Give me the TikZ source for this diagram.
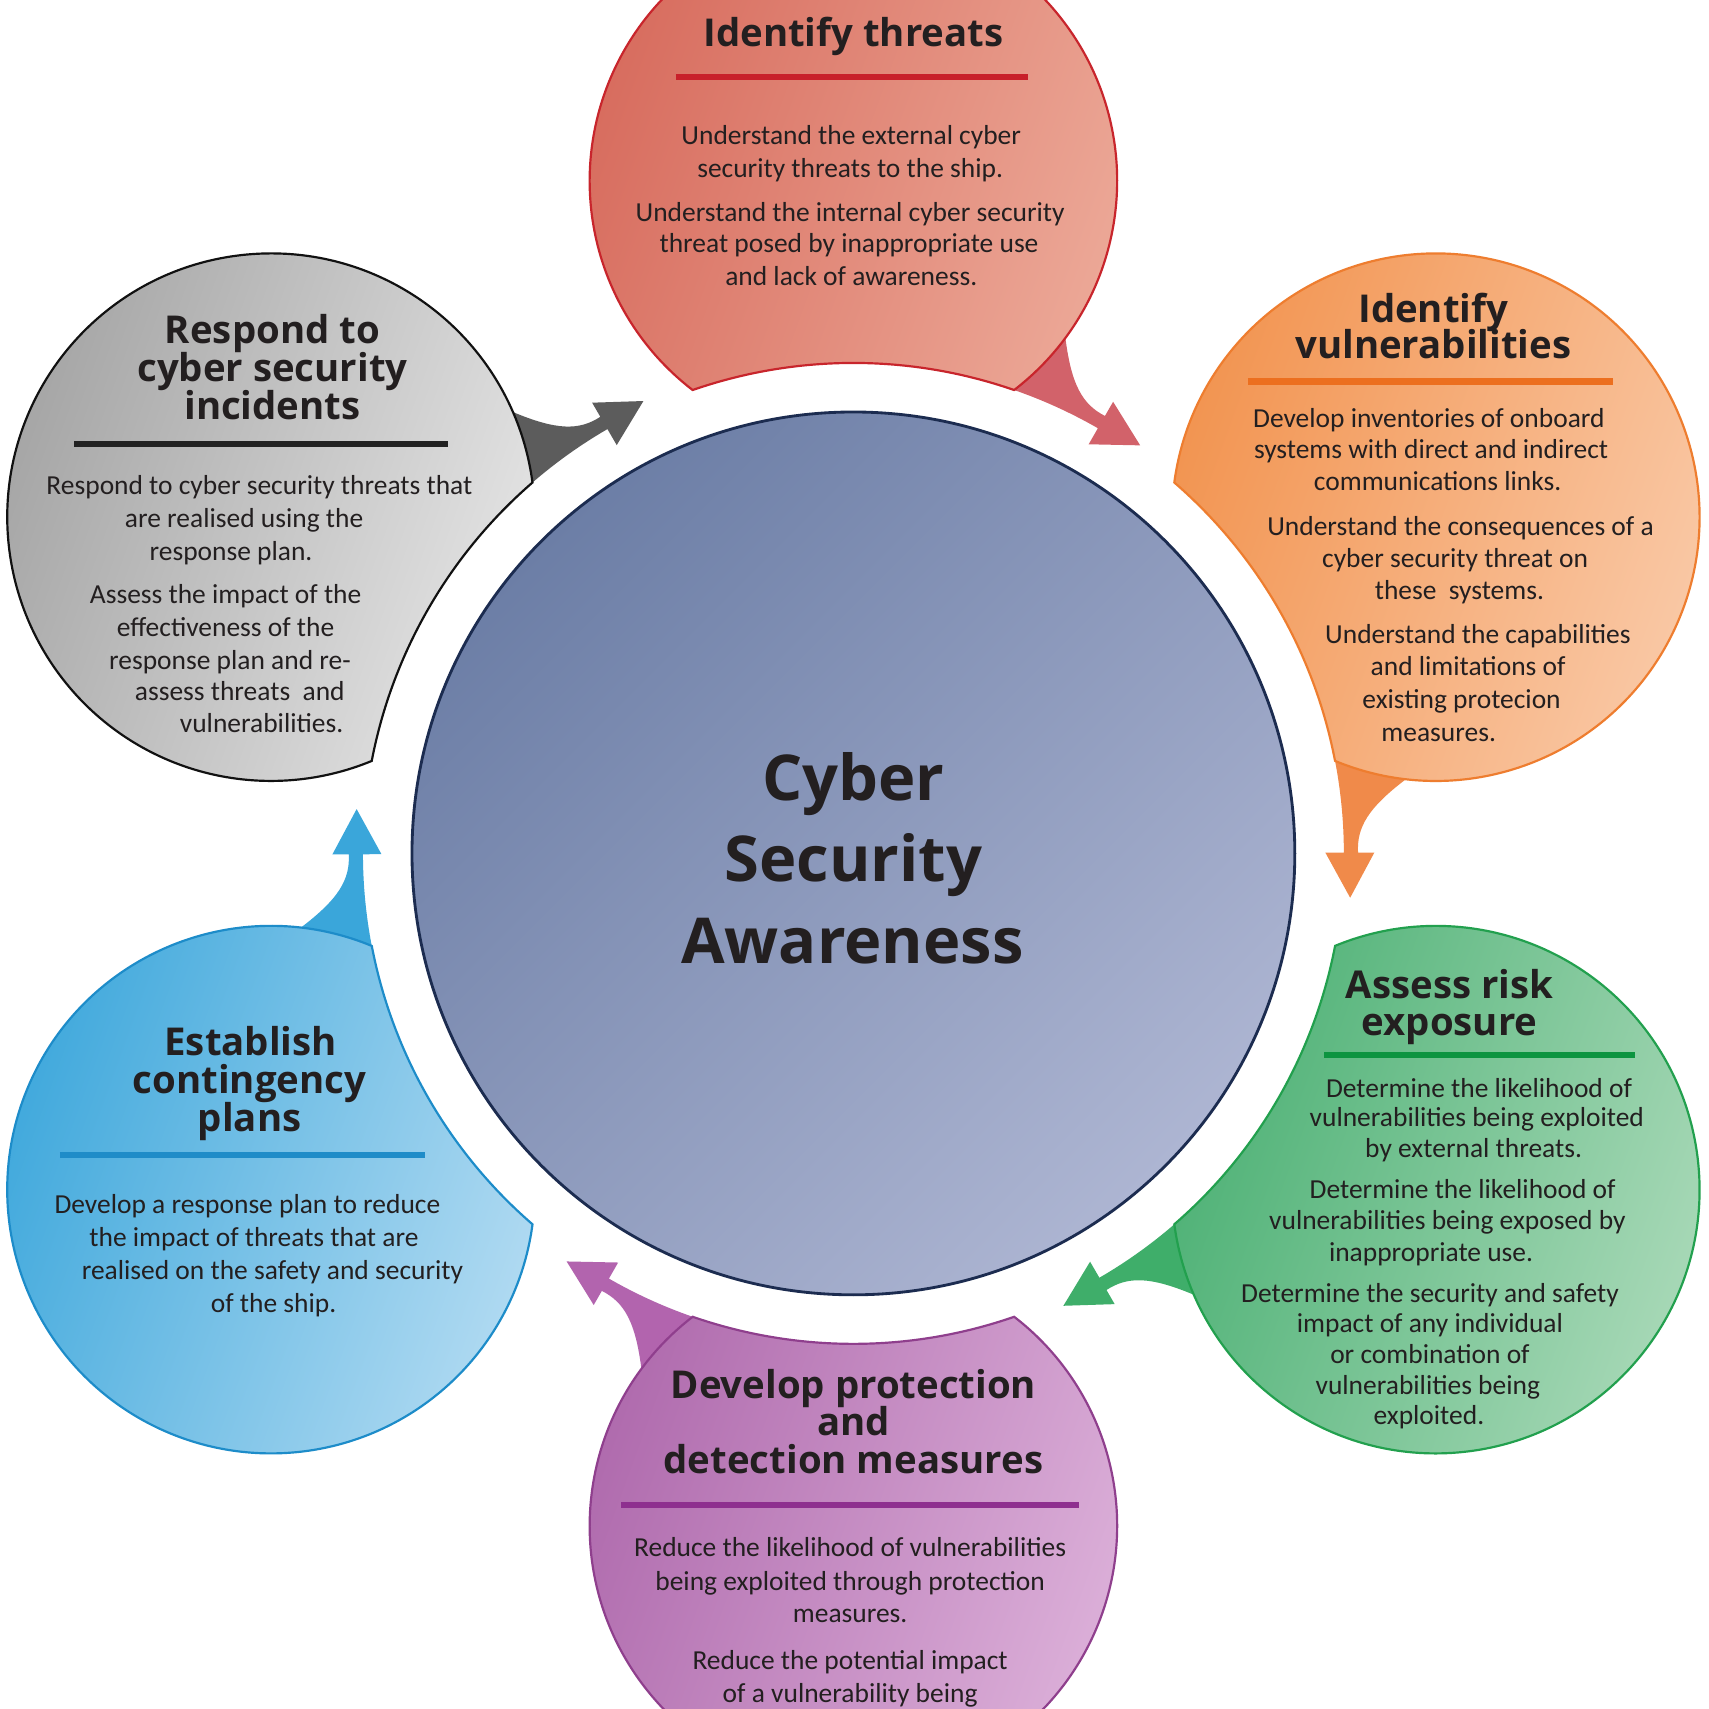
\documentclass[tikz,border=0pt]{standalone}
\usepackage{fontspec}
\setmainfont{Carlito}
\newfontfamily\titlefont{Open Sans}
\definecolor{txt}{HTML}{231F20}
% red
\definecolor{redA}{HTML}{D76B5D}\definecolor{redB}{HTML}{ECA897}\definecolor{redO}{HTML}{C8252C}\definecolor{redT}{HTML}{D2626A}\definecolor{redU}{HTML}{C8202A}
% orange
\definecolor{orA}{HTML}{F29552}\definecolor{orB}{HTML}{FACBAA}\definecolor{orO}{HTML}{EE7D2F}\definecolor{orT}{HTML}{F08A4A}\definecolor{orU}{HTML}{EC6F1F}
% green
\definecolor{grA}{HTML}{4DB175}\definecolor{grB}{HTML}{A9D9B8}\definecolor{grO}{HTML}{22A04E}\definecolor{grT}{HTML}{3FAE6A}\definecolor{grU}{HTML}{0D9440}
% purple
\definecolor{puA}{HTML}{AF6AAD}\definecolor{puB}{HTML}{DCB0D9}\definecolor{puO}{HTML}{8F3F8D}\definecolor{puT}{HTML}{B264AE}\definecolor{puU}{HTML}{8E2F8F}
% blue
\definecolor{blA}{HTML}{3AA6DB}\definecolor{blB}{HTML}{AED9F1}\definecolor{blO}{HTML}{1D8CC9}\definecolor{blT}{HTML}{3AA6DA}\definecolor{blU}{HTML}{1F8CC8}
% gray
\definecolor{gyA}{HTML}{A4A4A4}\definecolor{gyB}{HTML}{E4E4E4}\definecolor{gyO}{HTML}{111111}\definecolor{gyT}{HTML}{5C5C5C}\definecolor{gyU}{HTML}{222222}
% centre
\definecolor{ceA}{HTML}{6C7EA6}\definecolor{ceB}{HTML}{ADB5D2}\definecolor{ceO}{HTML}{1C2C50}

% tail of a bubble at angle #1
\newcommand{\bubtail}[2]{%
  \fill[#2] ({#1-22.35}:511.5) .. controls ({#1-24.94}:474.2) and ({#1-27.01}:462.4) .. ({#1-29.9}:463)
    -- ({#1-29.9}:478) -- ({#1-35.1}:457.6) -- ({#1-29.9}:433) -- ({#1-29.9}:450)
    arc[start angle={#1-29.9}, end angle={#1-19.13}, radius=450] -- cycle;}
% bubble body at angle #1
\newcommand{\bubbody}[4]{%
  \draw[#4, line width=1pt, top color=#2, bottom color=#3, shading angle=70]
    ({#1-19.13}:450) arc[start angle={#1-142.45}, end angle={#1+142.45}, radius=242]
    arc[start angle={#1+19.13}, end angle={#1-19.13}, radius=450] -- cycle;}
\newcommand{\tline}[4]{\node[body] (#1) at ({#2-783},{774-#3}) {#4};}
\newcommand{\ttline}[4]{\node[ttl] (#1) at ({#2-783},{770-#3}) {#4};}
\newcommand{\ctrline}[4]{\node[ctr] (#1) at ({#2-783},{761-#3}) {#4};}
\newcommand{\ruleline}[4]{\draw[#1, line width=2.8pt] ({#2-783},{783-#4}) -- ({#3-783},{783-#4});}

\begin{document}
\begin{tikzpicture}[x=0.5pt,y=0.5pt,
  body/.style={font=\fontsize{12.6}{15}\selectfont, text=txt, inner sep=0pt, anchor=base},
  ttl/.style={font=\titlefont\bfseries\fontsize{17.6}{17}\selectfont, text=txt, inner sep=0pt, anchor=base},
  ctr/.style={font=\titlefont\bfseries\fontsize{29}{36}\selectfont, text=txt, inner sep=0pt, anchor=base}]
\useasboundingbox (-783,-785) rectangle (785,783);
\clip (-783,-785) rectangle (785,783);
\fill[white] (-783,-785) rectangle (785,783);

% tails
\bubtail{90}{redT}
\bubtail{30}{orT}
\bubtail{-30}{grT}
\bubtail{-90}{puT}
\bubtail{-150}{blT}
\bubtail{150}{gyT}
% bubbles
\bubbody{90}{redA}{redB}{redO}
\bubbody{30}{orA}{orB}{orO}
\bubbody{-30}{grA}{grB}{grO}
\bubbody{-90}{puA}{puB}{puO}
\bubbody{-150}{blA}{blB}{blO}
\bubbody{150}{gyA}{gyB}{gyO}
% centre circle
\draw[ceO, line width=1.3pt, top color=ceA, bottom color=ceB, shading angle=45] (0,0) circle[radius=405];

% centre text
\ctrline{c1}{783}{712}{Cyber}
\ctrline{c2}{783}{787}{Security}
\ctrline{c3}{782}{862}{Awareness}

% red
\ttline{rt}{783}{30}{Identify threats}
\ruleline{redU}{620}{943}{71}
\tline{r1}{781}{124}{Understand the external cyber}
\tline{r2}{780}{154}{security threats to the ship.}
\tline{r3}{780}{194}{Understand the internal cyber security}
\tline{r4}{779}{223}{threat posed by inappropriate use}
\tline{r5}{781}{253}{and lack of awareness.}

% orange
\ttline{ot1}{1315}{283}{Identify}
\ttline{ot2}{1315}{316}{vulnerabilities}
\ruleline{orU}{1145}{1480}{350}
\tline{o1}{1311}{383}{Develop inventories of onboard}
\tline{o2}{1313}{412}{systems with direct and indirect}
\tline{o3}{1319}{441}{communications links.}
\tline{o4}{1340}{482}{Understand the consequences of a}
\tline{o5}{1335}{512}{cyber security threat on}
\tline{o6}{1339}{541}{these\ \ systems.}
\tline{o7}{1356}{581}{Understand the capabilities}
\tline{o8}{1347}{611}{and limitations of}
\tline{o9}{1341}{641}{existing protecion}
\tline{o10}{1320}{671}{measures.}

% green
\ttline{gt1}{1330}{903}{Assess risk}
\ttline{gt2}{1330}{937}{exposure}
\ruleline{grU}{1215}{1500}{968}
\tline{g1}{1357}{998}{Determine the likelihood of}
\tline{g2}{1355}{1025}{vulnerabilities being exploited}
\tline{g3}{1352}{1053}{by external threats.}
\tline{g4}{1342}{1091}{Determine the likelihood of}
\tline{g5}{1328}{1119}{vulnerabilities being exposed by}
\tline{g6}{1313}{1148}{inappropriate use.}
\tline{g7}{1312}{1186}{Determine the security and safety}
\tline{g8}{1312}{1214}{impact of any individual}
\tline{g9}{1312}{1242}{or combination of}
\tline{g10}{1310}{1270}{vulnerabilities being}
\tline{g11}{1311}{1298}{exploited.}

% purple
\ttline{pt1}{783}{1270}{Develop protection}
\ttline{pt2}{783}{1304}{and}
\ttline{pt3}{783}{1339}{detection measures}
\ruleline{puU}{570}{990}{1381}
\tline{p1}{780}{1419}{Reduce the likelihood of vulnerabilities}
\tline{p2}{780}{1450}{being exploited through protection}
\tline{p3}{780}{1480}{measures.}
\tline{p4}{780}{1523}{Reduce the potential impact}
\tline{p5}{780}{1553}{of a vulnerability being}

% blue
\ttline{bt1}{230}{955}{Establish}
\ttline{bt2}{229}{990}{contingency}
\ttline{bt3}{229}{1025}{plans}
\ruleline{blU}{55}{390}{1060}
\tline{b1}{227}{1104}{Develop a response plan to reduce}
\tline{b2}{233}{1135}{the impact of threats that are}
\tline{b3}{250}{1165}{realised on the safety and security}
\tline{b4}{251}{1195}{of the ship.}

% gray
\ttline{kt1}{250}{302}{Respond to}
\ttline{kt2}{250}{337}{cyber security}
\ttline{kt3}{250}{372}{incidents}
\ruleline{gyU}{68}{411}{407}
\tline{k1}{238}{445}{Respond to cyber security threats that}
\tline{k2}{224}{475}{are realised using the}
\tline{k3}{212}{505}{response plan.}
\tline{k4}{207}{545}{Assess the impact of the}
\tline{k5}{207}{575}{effectiveness of the}
\tline{k6}{211}{605}{response plan and re-}
\tline{k7}{220}{634}{assess threats\ \ and}
\tline{k8}{240}{663}{vulnerabilities.}
\end{tikzpicture}
\end{document}
